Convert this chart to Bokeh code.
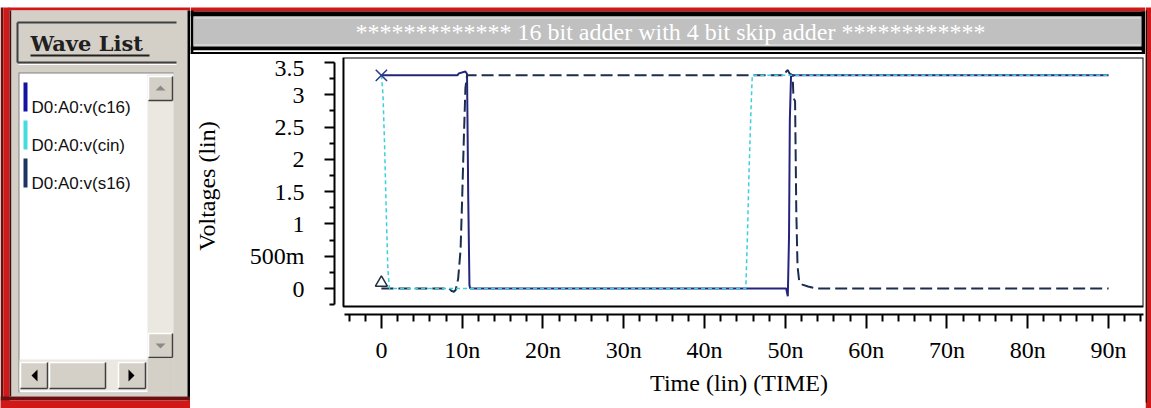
from bokeh.plotting import figure
from bokeh.models import Range1d, FixedTicker, BoxAnnotation
from bokeh.layouts import row, column
from bokeh.core.properties import value
from bokeh.embed import file_html
from bokeh.resources import INLINE

# ---------------- data (time in ns, voltage in V) ----------------
c16_t = [0.0, 9.4, 9.6, 10.4, 10.6, 10.75, 10.9, 11.0, 50.1, 50.3, 50.45, 50.55, 50.7, 90.0]
c16_v = [3.3, 3.3, 3.33, 3.36, 3.32, 1.4, 0.05, 0.0, 0.0, -0.12, 0.8, 2.6, 3.3, 3.3]

cin_t = [0.0, 0.2, 0.4, 0.6, 0.8, 1.0, 45.1, 45.3, 45.5, 45.7, 45.9, 90.0]
cin_v = [3.3, 3.0, 2.2, 1.2, 0.3, 0.0, 0.0, 0.8, 1.8, 2.6, 3.3, 3.3]

s16_t = [0.0, 8.4, 8.7, 9.0, 9.2, 9.5, 9.8, 10.0, 10.2, 10.4, 10.6, 49.9, 50.1, 50.3, 50.5, 50.9,
         51.0, 51.2, 51.35, 51.5, 51.7, 52.1, 52.8, 53.8, 90.0]
s16_v = [0.0, 0.0, -0.04, -0.05, -0.02, 0.15, 0.6, 1.4, 2.3, 3.1, 3.3, 3.3, 3.36, 3.38, 3.33, 3.3,
         2.95, 2.9, 1.2, 0.35, 0.12, 0.06, 0.03, 0.0, 0.0]

wave_names = ["D0:A0:v(c16)", "D0:A0:v(cin)", "D0:A0:v(s16)"]
wave_bar_colors = ["#1414a0", "#44dcdc", "#1c3560"]
line_colors = ["#24247e", "#3ccfdc", "#1c2d4e"]

x_ticks = [0, 10, 20, 30, 40, 50, 60, 70, 80, 90]
x_labels = ["0", "10n", "20n", "30n", "40n", "50n", "60n", "70n", "80n", "90n"]
x_minor = [-4, -2, 2, 4, 6, 8, 12, 14, 16, 18, 22, 24, 26, 28, 32, 34, 36, 38, 42, 44, 46, 48,
           52, 54, 56, 58, 62, 64, 66, 68, 72, 74, 76, 78, 82, 84, 86, 88, 92, 94]
y_ticks = [0, 0.5, 1, 1.5, 2, 2.5, 3, 3.5]
y_labels = ["0", "500m", "1", "1.5", "2", "2.5", "3", "3.5"]
y_minor = [-0.25, 0.25, 0.75, 1.25, 1.75, 2.25, 2.75, 3.25]

title_text = "************* 16 bit adder with 4 bit skip adder ************"
x_title = "Time (lin) (TIME)"
y_title = "Voltages (lin)"
panel_title = "Wave List"

RED = "#d01818"
DARKRED = "#6a1010"
GRAY = "#d4d0c8"
SERIF = "Liberation Serif"


def deco_fig(w, h):
    f = figure(width=w, height=h, x_range=Range1d(0, w), y_range=Range1d(h, 0),
               x_axis_location=None, y_axis_location=None, toolbar_location=None,
               output_backend="svg", min_border=0)
    f.grid.visible = False
    f.outline_line_color = None
    f.background_fill_color = "white"
    f.border_fill_color = "white"
    return f


def box(f, x0, y0, x1, y1, color):
    f.quad(left=x0, right=x1, top=y0, bottom=y1, fill_color=color, line_color=None)


def seg(f, x0, y0, x1, y1, color, w=1):
    f.segment(x0=x0, y0=y0, x1=x1, y1=y1, line_color=color, line_width=w)


def button(f, x0, y0, x1, y1):
    box(f, x0, y0, x1, y1, GRAY)
    seg(f, x0, y0, x1, y0, "white", 1.5)
    seg(f, x0, y0, x0, y1, "white", 1.5)
    seg(f, x0, y1, x1, y1, "#404040", 1.5)
    seg(f, x1, y0, x1, y1, "#404040", 1.5)


# ---------------- left panel : Wave List ----------------
left = deco_fig(190, 408)
box(left, 8, 7, 190, 10, RED)
box(left, 0, 7, 3, 408, DARKRED)
box(left, 3, 7, 9, 408, RED)
box(left, 9, 10, 11, 396, "#3a1010")
box(left, 11, 10, 187, 396, GRAY)
box(left, 187, 10, 190, 400, "black")
box(left, 0, 396, 190, 400, DARKRED)
box(left, 0, 400, 190, 408, RED)

# header
seg(left, 17, 22, 176, 22, "#404040", 2)
seg(left, 17, 62, 176, 62, "#404040", 2)
seg(left, 17, 22, 17, 62, "#404040", 2)
seg(left, 18, 64, 176, 64, "white", 1)
left.text(x=[30], y=[43], text=[panel_title], text_font=value("DejaVu Serif"),
          text_font_style="bold", text_font_size="21px", text_color="#202020",
          text_baseline="middle", text_align="left")
seg(left, 30, 55, 149, 55, "#202020", 2)

# list box
box(left, 18, 72, 173, 392, "#808080")
box(left, 19, 73, 173, 392, "white")
box(left, 147, 74, 173, 358, "#ebe8e2")
button(left, 148, 76, 172, 100)
left.patch(x=[155, 165, 160], y=[90, 90, 85], fill_color="#8a8a8a", line_color=None)
button(left, 148, 333, 172, 357)
left.patch(x=[155, 165, 160], y=[343, 343, 348], fill_color="#8a8a8a", line_color=None)
box(left, 19, 359, 147, 390, "#ebe8e2")
button(left, 20, 362, 47, 388)
left.patch(x=[37, 37, 31], y=[369, 381, 375], fill_color="black", line_color=None)
button(left, 49, 362, 105, 388)
button(left, 118, 362, 145, 388)
left.patch(x=[128, 128, 134], y=[369, 381, 375], fill_color="black", line_color=None)
box(left, 147, 358, 173, 392, GRAY)

for i, (nm, col) in enumerate(zip(wave_names, wave_bar_colors)):
    yc = 107 + 38 * i
    box(left, 23, yc - 25, 27, yc + 4, col)
    left.text(x=[31], y=[yc], text=[nm], text_font=value("Liberation Sans"),
              text_font_size="17px", text_color="#101010",
              text_baseline="middle", text_align="left")

# ---------------- title bar ----------------
tf = deco_fig(955, 54)
box(tf, 0, 7, 955, 11, RED)
box(tf, 0, 11, 955, 16, "black")
box(tf, 0, 10, 3, 54, "black")
box(tf, 3, 16, 951, 46, "#c0c0c0")
seg(tf, 4, 17.5, 950, 17.5, "#e6e6e6", 1)
seg(tf, 4, 44.5, 950, 44.5, "#e6e6e6", 1)
box(tf, 951, 11, 955, 54, "black")
box(tf, 0, 46, 955, 50, "black")
box(tf, 3, 50, 951, 51.5, "white")
box(tf, 0, 51.5, 955, 54, "black")
tf.text(x=[480], y=[31], text=[title_text], text_font=value(SERIF),
        text_font_size="24px", text_color="white",
        text_baseline="middle", text_align="center")

# ---------------- plot ----------------
PX_NS = 8.1     # pixels per ns
PX_V = 64.6     # pixels per volt
x_start = -47 / PX_NS
x_end = (811 - 47) / PX_NS
y_end = 231 / PX_V
y_start = -26 / PX_V

p = figure(width=955, height=348, x_range=Range1d(x_start, x_end), y_range=Range1d(y_start, y_end),
           min_border_left=142, min_border_right=2, min_border_top=3, min_border_bottom=88,
           toolbar_location=None, output_backend="svg")
p.grid.visible = False
p.outline_line_color = None
p.background_fill_color = "white"
p.border_fill_color = "white"

p.add_layout(BoxAnnotation(left=x_start + 9 / PX_NS, bottom=y_start + 8 / PX_V,
                           fill_alpha=0, line_color="black", line_width=2, line_alpha=1))

p.line(c16_t, c16_v, line_color=line_colors[0], line_width=2)
p.line(s16_t, s16_v, line_color=line_colors[2], line_width=2, line_dash="12 5")
p.line(cin_t, cin_v, line_color=line_colors[1], line_width=1.5, line_dash="4 3")
p.scatter([c16_t[0]], [c16_v[0]], marker="x", size=16, line_color="#2a3a8a", line_width=1.5)
p.scatter([s16_t[0]], [s16_v[0] + 0.09], marker="triangle", size=12, fill_color=None,
          line_color="#203040", line_width=1.5)

xa = p.xaxis[0]
xa.ticker = FixedTicker(ticks=x_ticks, minor_ticks=x_minor)
xa.major_label_overrides = {t: l for t, l in zip(x_ticks, x_labels)}
xa.bounds = (x_start + 10 / PX_NS, x_end)
xa.axis_label = x_title
ya = p.yaxis[0]
ya.ticker = FixedTicker(ticks=y_ticks, minor_ticks=y_minor)
ya.major_label_overrides = {t: l for t, l in zip(y_ticks, y_labels)}
ya.bounds = (-0.25, 3.5)
ya.axis_label = y_title

for ax in (xa, ya):
    ax.axis_line_width = 2
    ax.axis_line_color = "black"
    ax.major_tick_line_width = 2
    ax.minor_tick_line_width = 2
    ax.major_tick_in = 0
    ax.minor_tick_in = 0
    ax.major_label_text_font = SERIF
    ax.major_label_text_font_size = "24px"
    ax.major_label_text_color = "black"
    ax.axis_label_text_font = SERIF
    ax.axis_label_text_font_size = "24px"
    ax.axis_label_text_font_style = "normal"
    ax.axis_label_text_color = "black"

xa.major_tick_out = 14
xa.minor_tick_out = 7
xa.major_label_standoff = 8
xa.axis_label_standoff = 4
ya.major_tick_out = 10
ya.minor_tick_out = 5
ya.major_label_standoff = 20
ya.axis_label_standoff = 27

# ---------------- frame strips ----------------
bottom = deco_fig(955, 6)
box(bottom, 0, 0, 955, 1.5, DARKRED)
box(bottom, 0, 1.5, 955, 6, RED)

rstrip = deco_fig(6, 408)
box(rstrip, 0, 7, 6, 408, RED)
box(rstrip, 0, 10, 1.5, 402, "black")

layout = row(left, column(row(tf), p, row(bottom)), rstrip)

open("out.html", "w").write(file_html(layout, INLINE))
